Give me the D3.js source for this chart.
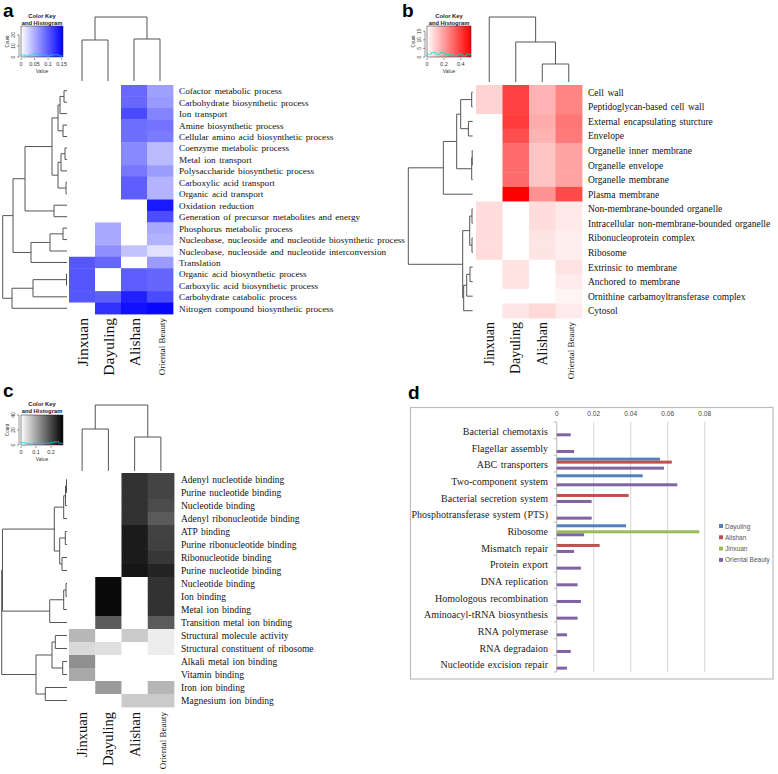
<!DOCTYPE html>
<html><head><meta charset="utf-8">
<script src="https://cdn.jsdelivr.net/npm/d3@7"></script>
<style>body{margin:0;background:#fff} svg{display:block}</style>
</head><body>
<svg id="chart" width="778" height="774"></svg>
<script>
// ---------------- DATA ----------------
const samples = ["Jinxuan", "Dayuling", "Alishan", "Oriental Beauty"];

// Panel a (biological process)
const aRows = ["Cofactor metabolic process","Carbohydrate biosynthetic process","Ion transport","Amine biosynthetic process","Cellular amino acid biosynthetic process","Coenzyme metabolic process","Metal ion transport","Polysaccharide biosynthetic process","Carboxylic acid transport","Organic acid transport","Oxidation reduction","Generation of precursor metabolites and energy","Phosphorus metabolic process","Nucleobase, nucleoside and nucleotide biosynthetic process","Nucleobase, nucleoside and nucleotide interconversion","Translation","Organic acid biosynthetic process","Carboxylic acid biosynthetic process","Carbohydrate catabolic process","Nitrogen compound biosynthetic process"];
const aJinxuan  = [0,0,0,0,0,0,0,0,0,0,0,0,0,0,0,0.103,0.103,0.103,0.103,0];
const aDayuling = [0,0,0,0,0,0,0,0,0,0,0,0,0.052,0.052,0.068,0.093,0,0,0.097,0.125];
const aAlishan  = [0.092,0.092,0.11,0.088,0.088,0.072,0.072,0.083,0.098,0.098,0,0,0,0,0.037,0,0.098,0.098,0.135,0.145];
const aOriental = [0.058,0.062,0.075,0.085,0.08,0.042,0.042,0.06,0.046,0.046,0.14,0.108,0.052,0.047,0.018,0.06,0.093,0.093,0.11,0.15];
const aRowMerges = [[-1,-2,3],[1,-3,7],[-4,-5,4],[2,3,9],[-6,-7,2],[5,-8,6],[-9,-10,1],[6,7,9],[4,8,15],[-11,-12,13],[9,10,42],[-13,-14,4],[12,-15,17],[13,-16,36],[11,14,54],[-17,-18,0.5],[16,-19,34],[17,-20,55],[15,18,64.3]];
const aColMerges = [[-1,-2,41],[-3,-4,42],[1,2,64]];
const aKeyTicks = [0, 0.05, 0.1, 0.15];
const aKeyTickLabels = ["0", "0.05", "0.1", "0.15"];
const aCountTicks = [0, 10, 20];
const aHist = [1,0,1,2,1,1,0,1,1,0];

// Panel b (cellular component)
const bRows = ["Cell wall","Peptidoglycan-based cell wall","External encapsulating sturcture","Envelope","Organelle inner membrane","Organelle envelope","Organelle membrane","Plasma membrane","Non-membrane-bounded organelle","Intracellular non-membrane-bounded organelle","Ribonucleoprotein complex","Ribosome","Extrinsic to membrane","Anchored to membrane","Ornithine carbamoyltransferase complex","Cytosol"];
const bJinxuan  = [0.09,0.09,0,0,0,0,0,0,0.07,0.07,0.07,0.07,0,0,0,0];
const bDayuling = [0.39,0.39,0.4,0.36,0.3,0.3,0.3,0.52,0,0,0,0,0.06,0.06,0,0.05];
const bAlishan  = [0.155,0.155,0.17,0.155,0.12,0.12,0.12,0.22,0.07,0.07,0.055,0.055,0,0,0,0.08];
const bOriental = [0.25,0.25,0.28,0.27,0.19,0.19,0.19,0.37,0.045,0.045,0.035,0.035,0.06,0.04,0.02,0.04];
const bRowMerges = [[-1,-2,1],[-3,-4,4.3],[1,2,12],[-5,-6,0.5],[4,-7,1],[3,5,16],[6,-8,29.3],[-9,-10,0.7],[-11,-12,0.7],[8,9,3],[-13,-14,2.7],[11,-15,6],[12,-16,9],[10,13,10],[7,14,64.3]];
const bColMerges = [[-3,-4,18],[-2,1,40],[-1,2,65]];
const bKeyTicks = [0, 0.2, 0.4];
const bKeyTickLabels = ["0", "0.2", "0.4"];
const bCountTicks = [0, 5, 10, 15];
const bHist = [1,2,1,2,1,1,0,1,0,1];

// Panel c (molecular function)
const cRows = ["Adenyl nucleotide binding","Purine nucleotide binding","Nucleotide binding","Adenyl ribonucleotide binding","ATP binding","Purine ribonucleotide binding","Ribonucleotide binding","Purine nucleotide binding","Nucleotide binding","Ion binding","Metal ion binding","Transition metal ion binding","Structural molecule activity","Structural constituent of ribosome","Alkali metal ion binding","Vitamin binding","Iron ion binding","Magnesium ion binding"];
const cJinxuan  = [0,0,0,0,0,0,0,0,0,0,0,0,0.078,0.042,0.122,0.096,0,0];
const cDayuling = [0,0,0,0,0,0,0,0,0.27,0.27,0.27,0.18,0,0.035,0,0,0.11,0];
const cAlishan  = [0.225,0.225,0.225,0.225,0.25,0.25,0.25,0.256,0,0,0,0,0.058,0,0,0,0,0.058];
const cOriental = [0.205,0.205,0.197,0.18,0.207,0.21,0.22,0.24,0.225,0.225,0.225,0.18,0.02,0.02,0,0,0.08,0.058];
const cRowMerges = [[-1,-2,0.5],[1,-3,1.5],[2,-4,3.3],[-5,-6,1.7],[-7,-8,5],[4,5,7.3],[3,6,12.7],[-9,-10,1],[8,-11,3.3],[9,-12,17.3],[7,10,64.5],[-13,-14,11.7],[-15,-16,4.3],[12,13,15],[-17,-18,21.7],[14,15,31],[11,16,65.3]];
const cColMerges = [[-1,-2,42],[-3,-4,34],[1,2,66]];
const cKeyTicks = [0, 0.1, 0.2];
const cKeyTickLabels = ["0", "0.1", "0.2"];
const cCountTicks = [0, 20, 40];
const cHist = [2,1,0,1,0,1,1,2,3,1];

// Panel d (KEGG pathways)
const pathways = ["Bacterial chemotaxis","Flagellar assembly","ABC transporters","Two-component system","Bacterial secretion system","Phosphotransferase system (PTS)","Ribosome","Mismatch repair","Protein export","DNA replication","Homologous recombination","Aminoacyl-tRNA biosynthesis","RNA polymerase","RNA degradaion","Nucleotide excision repair"];
const dSeries = ["Dayuling", "Alishan", "Jinxuan", "Oriental Beauty"];
const dColors = ["#4f81bd", "#c0504d", "#9bbb59", "#8064a2"];
const dDayuling = [0,0,0.0558,0.0465,0,0,0.0375,0,0,0,0,0,0,0,0];
const dAlishan  = [0,0,0.0622,0,0.0389,0,0,0.0232,0,0,0,0,0,0,0];
const dJinxuan  = [0,0,0,0,0,0,0.0771,0,0,0,0,0,0,0,0];
const dOriental = [0.0076,0.0094,0.058,0.0652,0.0189,0.0189,0.0148,0.0094,0.0131,0.0113,0.0131,0.0113,0.0056,0.0076,0.0056];
const dTicks = [0, 0.02, 0.04, 0.06, 0.08];
const dTickLabels = ["0", "0.02", "0.04", "0.06", "0.08"];

// ---------------- DRAWING ----------------
const svg = d3.select("#chart");
const SERIF = "'Liberation Serif','Times New Roman',serif";
const SANS = "'Liberation Sans',Arial,sans-serif";
const LINE = "#555";

function drawDendro(g, merges, leafPos, hScale, horizontal) {
  const pos = [], hts = [];
  const node = i => i < 0 ? [leafPos(-i - 1), 0] : [pos[i - 1], hts[i - 1]];
  let d = "";
  merges.forEach(([a, b, h], k) => {
    const [pa, ha] = node(a), [pb, hb] = node(b);
    pos[k] = (pa + pb) / 2; hts[k] = h;
    const H = hScale(h), Ha = hScale(ha), Hb = hScale(hb);
    if (horizontal) d += `M${Ha},${pa}H${H}V${pb}H${Hb}`;
    else d += `M${pa},${Ha}V${H}H${pb}V${Hb}`;
  });
  g.append("path").attr("d", d).attr("fill", "none").attr("stroke", LINE).attr("stroke-width", 1);
}

function drawKey(g, k, id) {
  const xs = d3.scaleLinear().domain([0, k.vmax]).range([k.x0, k.x1]);
  const ys = d3.scaleLinear().domain([0, k.countMax]).range([k.y1, k.y0]);
  const grad = svg.append("defs").append("linearGradient").attr("id", id);
  grad.append("stop").attr("offset", "0%").attr("stop-color", "#ffffff");
  grad.append("stop").attr("offset", "100%").attr("stop-color", k.color);
  g.append("rect").attr("x", k.x0).attr("y", k.y0).attr("width", k.x1 - k.x0).attr("height", k.y1 - k.y0)
    .attr("fill", `url(#${id})`).attr("stroke", "#222").attr("stroke-width", 0.5);
  // histogram (cyan)
  const bw = k.vmax / k.hist.length;
  let hp = `M${xs(0)},${ys(0) - 1}`;
  k.hist.forEach((c, i) => { hp += `V${ys(c) - 1}H${xs((i + 1) * bw)}`; });
  hp += `V${ys(0) - 1}`;
  g.append("path").attr("d", hp).attr("fill", "none").attr("stroke", "#00d8e8").attr("stroke-width", 0.7);
  // x axis
  k.ticks.forEach((t, i) => {
    g.append("line").attr("x1", xs(t)).attr("x2", xs(t)).attr("y1", k.y1 + 1).attr("y2", k.y1 + 3).attr("stroke", "#333").attr("stroke-width", 0.5);
    g.append("text").attr("x", xs(t)).attr("y", k.y1 + 9).attr("text-anchor", "middle")
      .attr("font-family", SANS).attr("font-size", 5.5).attr("fill", "#333").text(k.tickLabels[i]);
  });
  g.append("text").attr("x", (k.x0 + k.x1) / 2).attr("y", k.y1 + 16).attr("text-anchor", "middle")
    .attr("font-family", SANS).attr("font-size", 5).attr("fill", "#333").text("Value");
  // y axis
  g.append("line").attr("x1", k.x0 - 2).attr("x2", k.x0 - 2).attr("y1", ys(0)).attr("y2", ys(k.countTicks[k.countTicks.length - 1])).attr("stroke", "#333").attr("stroke-width", 0.5);
  k.countTicks.forEach(t => {
    g.append("line").attr("x1", k.x0 - 2).attr("x2", k.x0 - 4).attr("y1", ys(t)).attr("y2", ys(t)).attr("stroke", "#333").attr("stroke-width", 0.5);
    g.append("text").attr("transform", `translate(${k.x0 - 6},${ys(t)}) rotate(-90)`).attr("text-anchor", "middle")
      .attr("font-family", SANS).attr("font-size", 5).attr("fill", "#333").text(t);
  });
  g.append("text").attr("transform", `translate(${k.x0 - 12},${(k.y0 + k.y1) / 2}) rotate(-90)`).attr("text-anchor", "middle")
    .attr("font-family", SANS).attr("font-size", 4.5).attr("fill", "#333").text("Count");
  const cx = (k.x0 + k.x1) / 2;
  g.append("text").attr("x", cx).attr("y", k.titleY).attr("text-anchor", "middle").attr("font-family", SANS)
    .attr("font-weight", "bold").attr("font-size", 5.8).attr("fill", "#222").text("Color Key");
  g.append("text").attr("x", cx).attr("y", k.titleY + 7).attr("text-anchor", "middle").attr("font-family", SANS)
    .attr("font-weight", "bold").attr("font-size", 5.8).attr("fill", "#222").text("and Histogram");
}

function drawHeatmap(p) {
  const g = svg.append("g");
  const x = d3.scaleBand().domain(samples).range([p.x0, p.x1]);
  const y = d3.scaleBand().domain(d3.range(p.rows.length)).range([p.y0, p.y1]);
  const color = d3.scaleLinear().domain([0, p.vmax]).range(["#ffffff", p.color]).clamp(true);
  samples.forEach((s, j) => {
    p.cols[j].forEach((v, i) => {
      g.append("rect").attr("x", x(s)).attr("y", y(i)).attr("width", x.bandwidth() + 0.4).attr("height", y.bandwidth() + 0.4)
        .attr("fill", color(v));
    });
  });
  // row labels
  p.rows.forEach((r, i) => {
    g.append("text").attr("x", p.labelX).attr("y", y(i) + y.bandwidth() / 2 + 0.5).attr("dominant-baseline", "central")
      .attr("font-family", SERIF).attr("font-size", p.labelSize).attr("word-spacing", p.wordSpacing)
      .attr("fill", "#111").text(r);
  });
  // column labels
  samples.forEach(s => {
    const small = s === "Oriental Beauty";
    g.append("text").attr("transform", `translate(${x(s) + x.bandwidth() / 2 + (small ? 2 : 0)},${p.colLabelTop}) rotate(-90)`)
      .attr("text-anchor", "end").attr("dominant-baseline", "central")
      .attr("font-family", SERIF).attr("font-size", small ? 9 : p.colLabelSize).attr("fill", "#111").text(s);
  });
  // row dendrogram
  const rootH = p.rowMerges[p.rowMerges.length - 1][2];
  const hx = d3.scaleLinear().domain([0, rootH]).range([p.rowLeafX, p.rowRootX]);
  drawDendro(g, p.rowMerges, i => y(i) + y.bandwidth() / 2, hx, true);
  // column dendrogram
  const cRootH = p.colMerges[p.colMerges.length - 1][2];
  const hy = d3.scaleLinear().domain([0, cRootH]).range([p.colLeafY, p.colRootY]);
  drawDendro(g, p.colMerges, i => x(samples[i]) + x.bandwidth() / 2, hy, false);
  // key
  drawKey(g, p.key, p.id);
  // panel letter
  g.append("text").attr("x", p.letterX).attr("y", p.letterY).attr("font-family", SANS).attr("font-weight", "bold")
    .attr("font-size", 19).attr("fill", "#000").text(p.letter);
}

drawHeatmap({
  id: "ka", letter: "a", letterX: 3, letterY: 17,
  rows: aRows, cols: [aJinxuan, aDayuling, aAlishan, aOriental], color: "#0000ff", vmax: 0.155,
  x0: 69, x1: 173, y0: 85, y1: 314, labelX: 179, labelSize: 9.2, wordSpacing: 1.2, colLabelTop: 318, colLabelSize: 15.5,
  rowMerges: aRowMerges, rowLeafX: 67, rowRootX: 2.7,
  colMerges: aColMerges, colLeafY: 81, colRootY: 17,
  key: { x0: 21, x1: 63, y0: 26, y1: 57, vmax: 0.155, color: "#0000ff", ticks: aKeyTicks, tickLabels: aKeyTickLabels,
         countMax: 28, countTicks: aCountTicks, hist: aHist, titleY: 18 }
});

drawHeatmap({
  id: "kb", letter: "b", letterX: 402, letterY: 17,
  rows: bRows, cols: [bJinxuan, bDayuling, bAlishan, bOriental], color: "#ff0000", vmax: 0.52,
  x0: 476, x1: 582, y0: 85, y1: 318, labelX: 588, labelSize: 9.5, wordSpacing: 1.2, colLabelTop: 322, colLabelSize: 14,
  rowMerges: bRowMerges, rowLeafX: 472.7, rowRootX: 408.3,
  colMerges: bColMerges, colLeafY: 82, colRootY: 17,
  key: { x0: 427, x1: 471, y0: 26, y1: 57, vmax: 0.52, color: "#ff0000", ticks: bKeyTicks, tickLabels: bKeyTickLabels,
         countMax: 18, countTicks: bCountTicks, hist: bHist, titleY: 18 }
});

drawHeatmap({
  id: "kc", letter: "c", letterX: 3, letterY: 397,
  rows: cRows, cols: [cJinxuan, cDayuling, cAlishan, cOriental], color: "#000000", vmax: 0.28,
  x0: 69, x1: 174, y0: 473, y1: 707, labelX: 181, labelSize: 9.5, wordSpacing: 1, colLabelTop: 712, colLabelSize: 14.5,
  rowMerges: cRowMerges, rowLeafX: 67, rowRootX: 1.7,
  colMerges: cColMerges, colLeafY: 471, colRootY: 405,
  key: { x0: 21, x1: 63, y0: 415, y1: 445, vmax: 0.28, color: "#000000", ticks: cKeyTicks, tickLabels: cKeyTickLabels,
         countMax: 40, countTicks: cCountTicks, hist: cHist, titleY: 406 }
});

// ---------- Panel d ----------
(function () {
  const g = svg.append("g");
  g.append("text").attr("x", 408).attr("y", 399).attr("font-family", SANS).attr("font-weight", "bold")
    .attr("font-size", 19).attr("fill", "#000").text("d");
  g.append("rect").attr("x", 410.5).attr("y", 407.5).attr("width", 362.5).attr("height", 271.5)
    .attr("fill", "#fff").attr("stroke", "#bdbdbd").attr("stroke-width", 1.2);
  const x = d3.scaleLinear().domain([0, 0.08]).range([556.7, 704.7]);
  const y = d3.scaleBand().domain(pathways).range([422, 672]);
  const sub = d3.scaleBand().domain(dSeries).range([2.3, 14.3]);
  const vals = [dDayuling, dAlishan, dJinxuan, dOriental];
  // grid
  dTicks.slice(1).forEach(t => {
    g.append("line").attr("x1", x(t)).attr("x2", x(t)).attr("y1", 422).attr("y2", 672)
      .attr("stroke", "#d6d6d6").attr("stroke-width", 1);
  });
  dTicks.forEach((t, i) => {
    g.append("text").attr("x", x(t)).attr("y", 416).attr("text-anchor", "middle").attr("font-family", SANS)
      .attr("font-size", 6.5).attr("fill", "#444").text(dTickLabels[i]);
  });
  // category axis
  g.append("line").attr("x1", x(0)).attr("x2", x(0)).attr("y1", 422).attr("y2", 672).attr("stroke", "#bdbdbd").attr("stroke-width", 1);
  pathways.concat([null]).forEach(p => {
    const yy = p === null ? y.range()[1] : y(p);
    g.append("line").attr("x1", x(0) - 3).attr("x2", x(0)).attr("y1", yy).attr("y2", yy).attr("stroke", "#bdbdbd").attr("stroke-width", 1);
  });
  // bars
  dSeries.forEach((s, j) => {
    vals[j].forEach((v, i) => {
      if (v <= 0) return;
      g.append("rect").attr("x", x(0)).attr("y", y(pathways[i]) + sub(s)).attr("width", x(v) - x(0)).attr("height", sub.bandwidth())
        .attr("fill", dColors[j]);
    });
  });
  // labels
  pathways.forEach(p => {
    g.append("text").attr("x", 548).attr("y", y(p) + y.bandwidth() / 2 + 1.2).attr("text-anchor", "end")
      .attr("dominant-baseline", "central").attr("font-family", SERIF).attr("font-size", 10).attr("word-spacing", 1)
      .attr("fill", "#222").text(p);
  });
  // legend
  dSeries.forEach((s, j) => {
    const ly = 526 + j * 11.3;
    g.append("rect").attr("x", 719).attr("y", ly - 2).attr("width", 4).attr("height", 4).attr("fill", dColors[j]);
    g.append("text").attr("x", 725).attr("y", ly).attr("dominant-baseline", "central").attr("font-family", SANS)
      .attr("font-size", 6.5).attr("fill", "#555").text(s);
  });
})();
</script>
</body></html>
